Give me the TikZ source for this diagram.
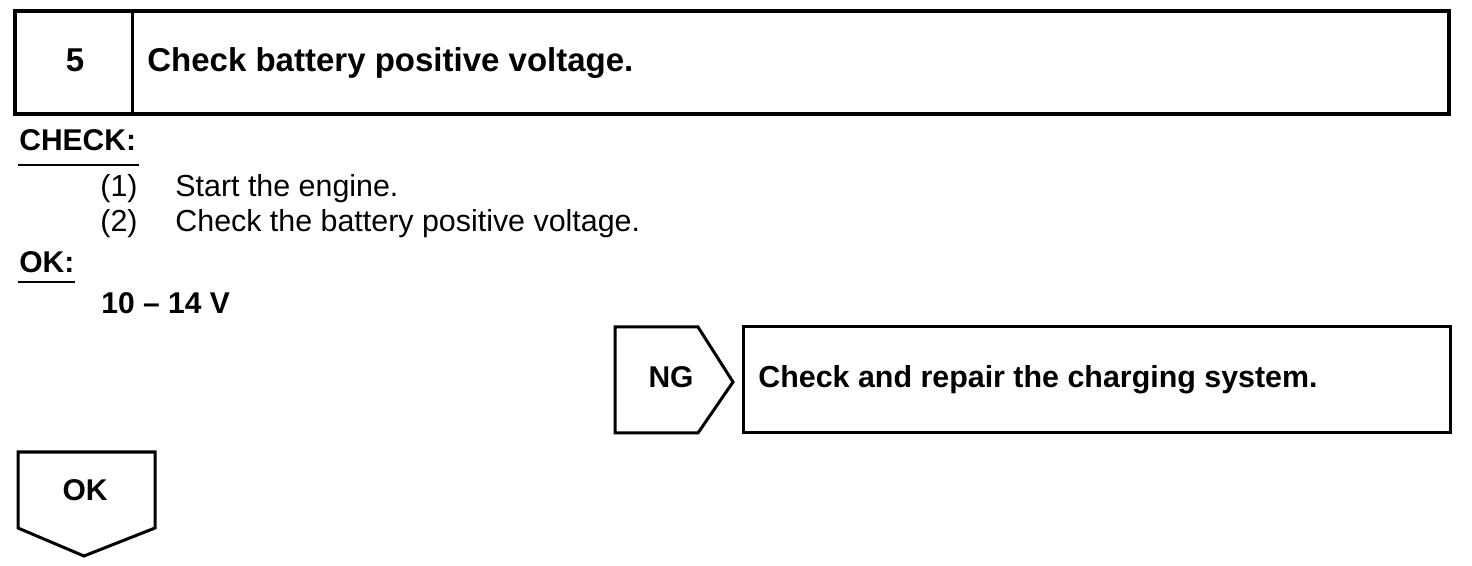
\documentclass[tikz,border=0pt]{standalone}
\usepackage{fontspec}
\setmainfont{Liberation Sans}
\begin{document}
\begin{tikzpicture}[x=0.5pt,y=-0.5pt,
  box/.style={draw=black,line width=1.5pt},
  txt/.style={inner sep=0pt,anchor=base west,font=\fontsize{15.2}{18}\selectfont},
  btxt/.style={inner sep=0pt,anchor=base west,font=\fontsize{15}{18}\selectfont\bfseries},
  htxt/.style={inner sep=0pt,anchor=base west,font=\fontsize{16.5}{19}\selectfont\bfseries},
  bctxt/.style={inner sep=0pt,anchor=base,font=\fontsize{15}{18}\selectfont\bfseries}]
\useasboundingbox[fill=white] (0,0) rectangle (1472,566);
% top header box
\draw[draw=black,line width=2pt] (15,11) rectangle (1449,114);
\draw[box] (132,11) -- (132,114);
\node[htxt,anchor=base] (num) at (75,72) {5};
\node[htxt] (title) at (147,72) {Check battery positive voltage.};
% CHECK
\node[btxt] (check) at (19,151) {CHECK:};
\draw[line width=1.1pt] (18,165) -- (139,165);
\node[txt] (n1) at (100,197) {(1)};
\node[txt] (s1) at (175,197) {Start the engine.};
\node[txt] (n2) at (100,232) {(2)};
\node[txt] (s2) at (175,232) {Check the battery positive voltage.};
\node[btxt] (ok) at (19,273) {OK:};
\draw[line width=1.1pt] (18,282) -- (75,282);
\node[btxt] (spec) at (101,314) {10 – 14 V};
% NG
\draw[box] (615,327) -- (698,327) -- (733,382) -- (698,433) -- (615,433) -- cycle;
\node[bctxt] (ng) at (671,388) {NG};
\draw[box] (743,327) rectangle (1450,433);
\node[btxt,font=\fontsize{15.2}{18}\selectfont\bfseries] (repair) at (758,388) {Check and repair the charging system.};
% OK arrow
\draw[box] (18,452) -- (155,452) -- (155,528) -- (84,556) -- (18,528) -- cycle;
\node[bctxt] (okb) at (85,500) {OK};
\end{tikzpicture}
\end{document}
